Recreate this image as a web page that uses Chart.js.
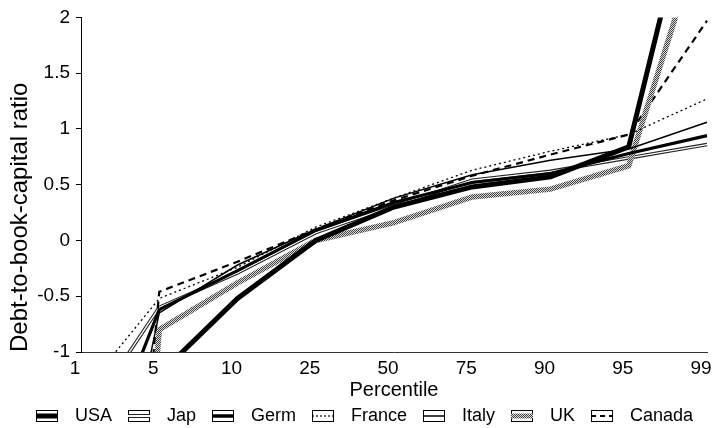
<!DOCTYPE html>
<html>
<head>
<meta charset="utf-8">
<script src="https://cdn.jsdelivr.net/npm/chart.js@4.4.1/dist/chart.umd.min.js"></script>
<style>
  html, body { margin: 0; padding: 0; background: #fff; }
  #wrap { width: 715px; height: 428px; }
</style>
</head>
<body>
<div id="wrap"><canvas id="chart" width="715" height="428"></canvas></div>
<script>
// percentiles on the x axis
const percentiles = ['1', '5', '10', '25', '50', '75', '90', '95', '99'];

// debt-to-book-capital ratio per country (values under -1 run off the plot)
const usa    = [-3.0, -1.2, -0.52, 0.0, 0.30, 0.48, 0.57, 0.84, 3.7];
const jap    = [-1.65, -0.60, -0.29, 0.07, 0.31, 0.54, 0.62, 0.74, 0.86];
const germ   = [-2.4, -0.62, -0.27, 0.09, 0.34, 0.52, 0.60, 0.78, 0.94];
const france = [-1.38, -0.52, -0.24, 0.12, 0.38, 0.63, 0.80, 0.95, 1.27];
const italy  = [-4.0, -0.65, -0.22, 0.10, 0.38, 0.59, 0.72, 0.82, 1.06];
const uk     = [-10.0, -0.80, -0.38, 0.0, 0.16, 0.39, 0.46, 0.67, 2.9];
const canada = [-8.0, -0.46, -0.19, 0.10, 0.36, 0.58, 0.77, 0.95, 1.97];

const yTicks = [-1, -0.5, 0, 0.5, 1, 1.5, 2];

const FONT = "'Liberation Sans', Arial, Helvetica, sans-serif";

// halftone grey like the scanned UK line
function dither() {
    const c = document.createElement('canvas');
    c.width = 2; c.height = 2;
    const g = c.getContext('2d');
    g.fillStyle = '#d8d8d8'; g.fillRect(0, 0, 2, 2);
    g.fillStyle = '#444'; g.fillRect(0, 0, 1, 1); g.fillRect(1, 1, 1, 1);
    return g.createPattern(c, 'repeat');
}
const ukPattern = dither();

// little boxed swatch for the legend
function swatch(draw) {
    const c = document.createElement('canvas');
    c.width = 30; c.height = 14;
    const g = c.getContext('2d');
    g.strokeStyle = '#000';
    g.lineWidth = 1;
    g.strokeRect(0.5, 1.5, 21, 11);
    g.beginPath();
    g.moveTo(0, 7); g.lineTo(22, 7);
    draw(g);
    return c;
}

const legendItems = [
    { text: 'USA',    icon: swatch(g => { g.lineWidth = 5; g.strokeStyle = '#000'; g.stroke(); }) },
    { text: 'Jap',    icon: swatch(g => { g.lineWidth = 4; g.strokeStyle = '#222'; g.stroke(); g.lineWidth = 2; g.strokeStyle = '#fff'; g.stroke(); }) },
    { text: 'Germ',   icon: swatch(g => { g.lineWidth = 3.5; g.strokeStyle = '#000'; g.stroke(); }) },
    { text: 'France', icon: swatch(g => { g.lineWidth = 1.2; g.setLineDash([2, 2]); g.strokeStyle = '#000'; g.stroke(); }) },
    { text: 'Italy',  icon: swatch(g => { g.lineWidth = 1.5; g.strokeStyle = '#000'; g.stroke(); }) },
    { text: 'UK',     icon: swatch(g => { g.lineWidth = 5; g.strokeStyle = ukPattern; g.stroke(); }) },
    { text: 'Canada', icon: swatch(g => { g.lineWidth = 2; g.setLineDash([5, 4]); g.strokeStyle = '#000'; g.stroke(); }) }
];

function line(label, data, color, width, dash, order) {
    return {
        label: label,
        data: data,
        borderColor: color,
        borderWidth: width,
        borderDash: dash || [],
        pointRadius: 0,
        fill: false,
        tension: 0,
        order: order || 0
    };
}

new Chart(document.getElementById('chart').getContext('2d'), {
    type: 'line',
    data: {
        labels: percentiles,
        datasets: [
            line('USA', usa, '#000', 5, null, 0),
            line('Jap', jap, '#222', 3.5, null, 3),
            line('Jap inner', jap, '#fff', 1.3, null, 2),
            line('Germ', germ, '#000', 3.2, null, 1),
            line('France', france, '#000', 1.3, [2, 3], 1),
            line('Italy', italy, '#000', 1.5, null, 1),
            line('UK', uk, ukPattern, 5.5, null, 1),
            line('Canada', canada, '#000', 2.2, [7, 5], 1)
        ]
    },
    options: {
        responsive: false,
        animation: false,
        layout: { padding: { left: 14, right: 0, top: 10, bottom: -7 } },
        plugins: {
            tooltip: { enabled: false },
            legend: {
                position: 'bottom',
                labels: {
                    usePointStyle: true,
                    pointStyleWidth: 30,
                    padding: 16,
                    color: '#000',
                    font: { family: FONT, size: 18 },
                    generateLabels: () => legendItems.map((it, i) => ({
                        text: it.text,
                        pointStyle: it.icon,
                        fillStyle: 'transparent',
                        strokeStyle: 'transparent',
                        lineWidth: 0,
                        hidden: false,
                        datasetIndex: i
                    }))
                }
            }
        },
        scales: {
            x: {
                afterFit: s => { s.height = 39; s.paddingRight = 8; },
                grid: { display: false, drawTicks: false },
                border: { display: true, color: '#333', width: 1 },
                ticks: { color: '#000', padding: 5, labelOffset: -6, maxRotation: 0, font: { family: FONT, size: 19 } },
                title: { display: true, text: 'Percentile', color: '#000', padding: { top: 0, bottom: -11 }, font: { family: FONT, size: 20 } }
            },
            y: {
                min: -1,
                max: 2,
                afterFit: s => { s.width = 67; },
                afterBuildTicks: s => { s.ticks = yTicks.map(v => ({ value: v })); },
                grid: { drawOnChartArea: false, tickLength: 5, color: '#000' },
                border: { display: true, color: '#000', width: 1 },
                ticks: { color: '#000', padding: 6, font: { family: FONT, size: 19 }, callback: v => String(v) },
                title: { display: true, text: 'Debt-to-book-capital ratio', align: 'start', color: '#000', padding: { top: -8, bottom: 0 }, font: { family: FONT, size: 24 } }
            }
        }
    }
});
</script>
</body>
</html>
